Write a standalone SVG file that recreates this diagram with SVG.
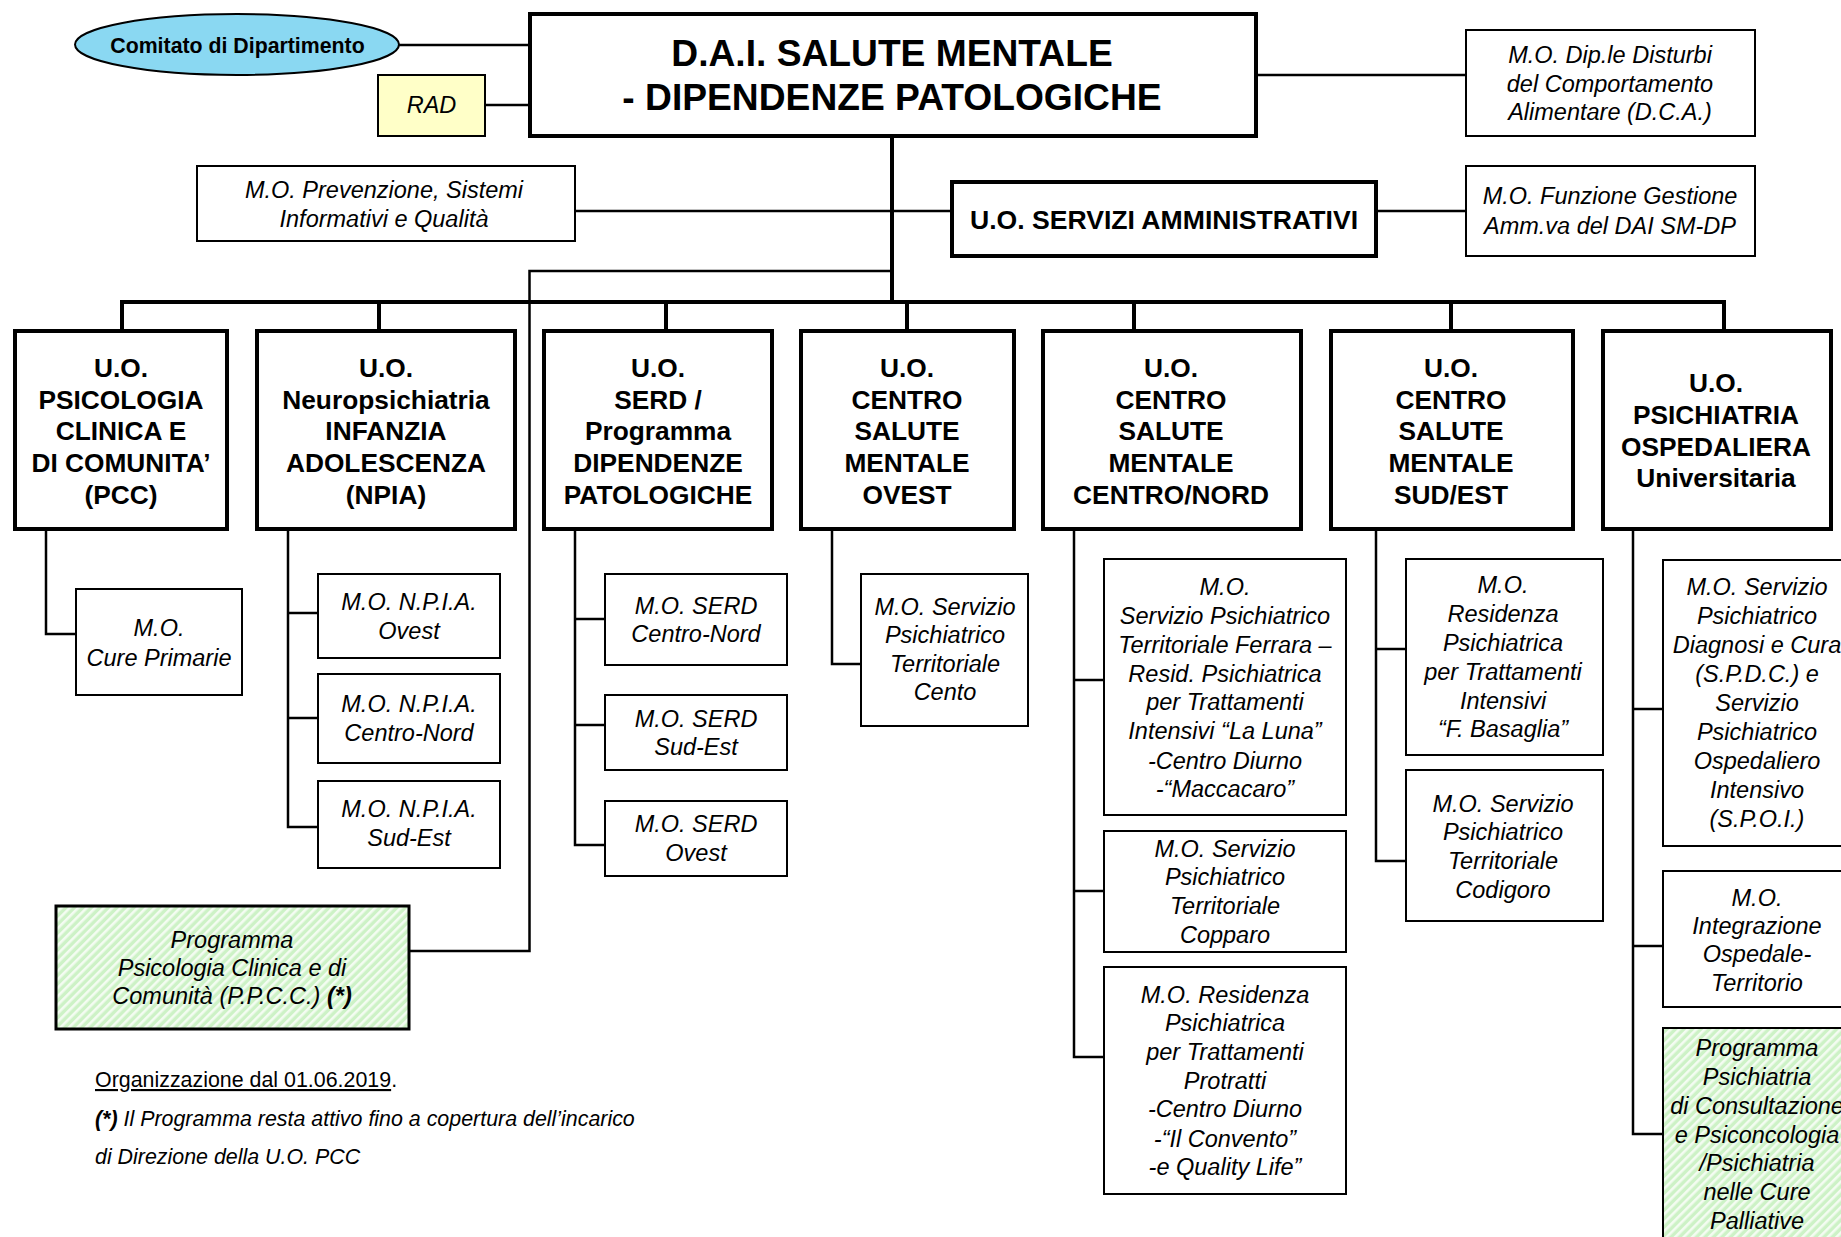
<svg xmlns="http://www.w3.org/2000/svg" width="1841" height="1237" viewBox="0 0 1841 1237">
<style>
text{font-family:"Liberation Sans",Arial,Helvetica,sans-serif;fill:#000;text-anchor:middle}
.tb{font-weight:bold;font-size:26.3px}
.ti{font-style:italic;font-size:23.5px}
.uo{fill:#fff;stroke:#000;stroke-width:4}
.mo{fill:#fff;stroke:#000;stroke-width:2}
.ln{stroke:#000;stroke-width:2.5;fill:none}
.lt{stroke:#000;stroke-width:4;fill:none}
</style>
<defs>
<pattern id="hatch" width="6" height="6" patternUnits="userSpaceOnUse" patternTransform="rotate(45)">
<rect width="6" height="6" fill="#cdf2c6"/>
<rect x="0" y="0" width="2.6" height="6" fill="#f4fcf2"/>
</pattern>
</defs>
<rect width="1841" height="1237" fill="#fff"/>

<g id="connectors">
<line class="ln" x1="399" y1="45" x2="530" y2="45"/>
<line class="ln" x1="485" y1="105" x2="530" y2="105"/>
<line class="ln" x1="1256" y1="75" x2="1466" y2="75"/>
<line class="lt" x1="892" y1="136" x2="892" y2="302"/>
<line class="ln" x1="575" y1="211" x2="892" y2="211"/>
<line class="ln" x1="892" y1="211" x2="952" y2="211" stroke-width="5"/>
<line class="ln" x1="1376" y1="211" x2="1466" y2="211"/>
<polyline class="ln" stroke-width="3" points="892,271 529.5,271 529.5,951 409,951"/>
<line class="lt" x1="120" y1="302" x2="1726" y2="302"/>
<line class="lt" x1="122" y1="302" x2="122" y2="331"/>
<line class="lt" x1="379" y1="302" x2="379" y2="331"/>
<line class="lt" x1="666" y1="302" x2="666" y2="331"/>
<line class="lt" x1="907" y1="302" x2="907" y2="331"/>
<line class="lt" x1="1134" y1="302" x2="1134" y2="331"/>
<line class="lt" x1="1451" y1="302" x2="1451" y2="331"/>
<line class="lt" x1="1724" y1="302" x2="1724" y2="331"/>
<polyline class="ln" points="46,529 46,634 76,634"/>
<polyline class="ln" points="288,529 288,827 318,827"/>
<line class="ln" x1="288" y1="613" x2="318" y2="613"/>
<line class="ln" x1="288" y1="718" x2="318" y2="718"/>
<polyline class="ln" points="575,529 575,845 605,845"/>
<line class="ln" x1="575" y1="619" x2="605" y2="619"/>
<line class="ln" x1="575" y1="725" x2="605" y2="725"/>
<polyline class="ln" points="832,529 832,664 861,664"/>
<polyline class="ln" points="1074,529 1074,1057 1104,1057"/>
<line class="ln" x1="1074" y1="680" x2="1104" y2="680"/>
<line class="ln" x1="1074" y1="891" x2="1104" y2="891" stroke-width="3.5"/>
<polyline class="ln" points="1376,529 1376,861 1406,861"/>
<line class="ln" x1="1376" y1="649" x2="1406" y2="649"/>
<polyline class="ln" points="1633,529 1633,1134 1663,1134"/>
<line class="ln" x1="1633" y1="709" x2="1663" y2="709"/>
<line class="ln" x1="1633" y1="946" x2="1663" y2="946"/>
</g>

<g id="comitato">
<ellipse cx="237" cy="44.5" rx="162" ry="30.5" fill="#8ad8f2" stroke="#000" stroke-width="2"/>
<text x="237.5" y="52.5" font-weight="bold" font-size="21.3px">Comitato di Dipartimento</text>
</g>
<g id="rad">
<rect x="378" y="75" width="107" height="61" fill="#ffffc8" stroke="#000" stroke-width="2"/>
<text class="ti" x="431.5" y="113">RAD</text>
</g>
<g id="dai">
<rect class="uo" x="530" y="14" width="726" height="122"/>
<text x="892" y="66" font-weight="bold" font-size="37.2px">D.A.I. SALUTE MENTALE</text>
<text x="892" y="110" font-weight="bold" font-size="37.2px">- DIPENDENZE PATOLOGICHE</text>
</g>
<g id="dca">
<rect class="mo" x="1466" y="30" width="289" height="106"/>
<text class="ti" x="1610" y="63">M.O. Dip.le Disturbi</text>
<text class="ti" x="1610" y="92">del Comportamento</text>
<text class="ti" x="1610" y="120">Alimentare (D.C.A.)</text>
</g>
<g id="prevenzione">
<rect class="mo" x="197" y="166" width="378" height="75"/>
<text class="ti" x="384" y="198">M.O. Prevenzione, Sistemi</text>
<text class="ti" x="384" y="227">Informativi e Qualità</text>
</g>
<g id="servizi-amm">
<rect class="uo" x="952" y="182" width="424" height="74"/>
<text x="1164" y="229" font-weight="bold" font-size="26.6px">U.O. SERVIZI AMMINISTRATIVI</text>
</g>
<g id="funzione-gestione">
<rect class="mo" x="1466" y="166" width="289" height="90"/>
<text class="ti" x="1610" y="204">M.O. Funzione Gestione</text>
<text class="ti" x="1610" y="234">Amm.va del DAI SM-DP</text>
</g>

<g id="uo-pcc">
<rect class="uo" x="15" y="331" width="212" height="198"/>
<text class="tb" x="121" y="377">U.O.</text>
<text class="tb" x="121" y="408.5">PSICOLOGIA</text>
<text class="tb" x="121" y="440">CLINICA E</text>
<text class="tb" x="121" y="472">DI COMUNITA’</text>
<text class="tb" x="121" y="503.5">(PCC)</text>
</g>
<g id="uo-npia">
<rect class="uo" x="257" y="331" width="258" height="198"/>
<text class="tb" x="386" y="377">U.O.</text>
<text class="tb" x="386" y="408.5">Neuropsichiatria</text>
<text class="tb" x="386" y="440">INFANZIA</text>
<text class="tb" x="386" y="472">ADOLESCENZA</text>
<text class="tb" x="386" y="503.5">(NPIA)</text>
</g>
<g id="uo-serd">
<rect class="uo" x="544" y="331" width="228" height="198"/>
<text class="tb" x="658" y="377">U.O.</text>
<text class="tb" x="658" y="408.5">SERD /</text>
<text class="tb" x="658" y="440">Programma</text>
<text class="tb" x="658" y="472">DIPENDENZE</text>
<text class="tb" x="658" y="503.5">PATOLOGICHE</text>
</g>
<g id="uo-csm-ovest">
<rect class="uo" x="801" y="331" width="213" height="198"/>
<text class="tb" x="907" y="377">U.O.</text>
<text class="tb" x="907" y="408.5">CENTRO</text>
<text class="tb" x="907" y="440">SALUTE</text>
<text class="tb" x="907" y="472">MENTALE</text>
<text class="tb" x="907" y="503.5">OVEST</text>
</g>
<g id="uo-csm-centronord">
<rect class="uo" x="1043" y="331" width="258" height="198"/>
<text class="tb" x="1171" y="377">U.O.</text>
<text class="tb" x="1171" y="408.5">CENTRO</text>
<text class="tb" x="1171" y="440">SALUTE</text>
<text class="tb" x="1171" y="472">MENTALE</text>
<text class="tb" x="1171" y="503.5">CENTRO/NORD</text>
</g>
<g id="uo-csm-sudest">
<rect class="uo" x="1331" y="331" width="242" height="198"/>
<text class="tb" x="1451" y="377">U.O.</text>
<text class="tb" x="1451" y="408.5">CENTRO</text>
<text class="tb" x="1451" y="440">SALUTE</text>
<text class="tb" x="1451" y="472">MENTALE</text>
<text class="tb" x="1451" y="503.5">SUD/EST</text>
</g>
<g id="uo-psichiatria-osp">
<rect class="uo" x="1603" y="331" width="228" height="198"/>
<text class="tb" x="1716" y="392">U.O.</text>
<text class="tb" x="1716" y="424">PSICHIATRIA</text>
<text class="tb" x="1716" y="455.5">OSPEDALIERA</text>
<text class="tb" x="1716" y="487">Universitaria</text>
</g>

<g id="mo-cure-primarie">
<rect class="mo" x="76" y="589" width="166" height="106"/>
<text class="ti" x="159" y="636">M.O.</text>
<text class="ti" x="159" y="666">Cure Primarie</text>
</g>
<g id="mo-npia-ovest">
<rect class="mo" x="318" y="574" width="182" height="84"/>
<text class="ti" x="409" y="610">M.O. N.P.I.A.</text>
<text class="ti" x="409" y="639">Ovest</text>
</g>
<g id="mo-npia-centronord">
<rect class="mo" x="318" y="674" width="182" height="89"/>
<text class="ti" x="409" y="712">M.O. N.P.I.A.</text>
<text class="ti" x="409" y="741">Centro-Nord</text>
</g>
<g id="mo-npia-sudest">
<rect class="mo" x="318" y="781" width="182" height="87"/>
<text class="ti" x="409" y="817">M.O. N.P.I.A.</text>
<text class="ti" x="409" y="846">Sud-Est</text>
</g>
<g id="programma-ppcc">
<rect x="56" y="906" width="353" height="123" fill="url(#hatch)" stroke="#000" stroke-width="3"/>
<text class="ti" x="232" y="948">Programma</text>
<text class="ti" x="232" y="976">Psicologia Clinica e di</text>
<text class="ti" x="232" y="1004">Comunità (P.P.C.C.) <tspan font-weight="bold">(*)</tspan></text>
</g>

<g id="mo-serd-centronord">
<rect class="mo" x="605" y="574" width="182" height="91"/>
<text class="ti" x="696" y="614">M.O. SERD</text>
<text class="ti" x="696" y="642">Centro-Nord</text>
</g>
<g id="mo-serd-sudest">
<rect class="mo" x="605" y="695" width="182" height="75"/>
<text class="ti" x="696" y="727">M.O. SERD</text>
<text class="ti" x="696" y="755">Sud-Est</text>
</g>
<g id="mo-serd-ovest">
<rect class="mo" x="605" y="801" width="182" height="75"/>
<text class="ti" x="696" y="832">M.O. SERD</text>
<text class="ti" x="696" y="861">Ovest</text>
</g>
<g id="mo-spt-cento">
<rect class="mo" x="861" y="574" width="167" height="152"/>
<text class="ti" x="945" y="615">M.O. Servizio</text>
<text class="ti" x="945" y="643">Psichiatrico</text>
<text class="ti" x="945" y="672">Territoriale</text>
<text class="ti" x="945" y="700">Cento</text>
</g>

<g id="mo-spt-ferrara">
<rect class="mo" x="1104" y="559" width="242" height="256"/>
<text class="ti" x="1225" y="595">M.O.</text>
<text class="ti" x="1225" y="624">Servizio Psichiatrico</text>
<text class="ti" x="1225" y="653">Territoriale Ferrara –</text>
<text class="ti" x="1225" y="682">Resid. Psichiatrica</text>
<text class="ti" x="1225" y="710">per Trattamenti</text>
<text class="ti" x="1225" y="739">Intensivi “La Luna”</text>
<text class="ti" x="1225" y="769">-Centro Diurno</text>
<text class="ti" x="1225" y="797">-“Maccacaro”</text>
</g>
<g id="mo-spt-copparo">
<rect class="mo" x="1104" y="831" width="242" height="121"/>
<text class="ti" x="1225" y="857">M.O. Servizio</text>
<text class="ti" x="1225" y="885">Psichiatrico</text>
<text class="ti" x="1225" y="914">Territoriale</text>
<text class="ti" x="1225" y="943">Copparo</text>
</g>
<g id="mo-residenza-protratti">
<rect class="mo" x="1104" y="967" width="242" height="227"/>
<text class="ti" x="1225" y="1003">M.O. Residenza</text>
<text class="ti" x="1225" y="1031">Psichiatrica</text>
<text class="ti" x="1225" y="1060">per Trattamenti</text>
<text class="ti" x="1225" y="1089">Protratti</text>
<text class="ti" x="1225" y="1117">-Centro Diurno</text>
<text class="ti" x="1225" y="1147">-“Il Convento”</text>
<text class="ti" x="1225" y="1175">-e Quality Life”</text>
</g>

<g id="mo-residenza-basaglia">
<rect class="mo" x="1406" y="559" width="197" height="196"/>
<text class="ti" x="1503" y="593">M.O.</text>
<text class="ti" x="1503" y="622">Residenza</text>
<text class="ti" x="1503" y="651">Psichiatrica</text>
<text class="ti" x="1503" y="680">per Trattamenti</text>
<text class="ti" x="1503" y="709">Intensivi</text>
<text class="ti" x="1503" y="737">“F. Basaglia”</text>
</g>
<g id="mo-spt-codigoro">
<rect class="mo" x="1406" y="770" width="197" height="151"/>
<text class="ti" x="1503" y="812">M.O. Servizio</text>
<text class="ti" x="1503" y="840">Psichiatrico</text>
<text class="ti" x="1503" y="869">Territoriale</text>
<text class="ti" x="1503" y="898">Codigoro</text>
</g>

<g id="mo-spdc-spoi">
<rect class="mo" x="1663" y="560" width="188" height="286"/>
<text class="ti" x="1757" y="595">M.O. Servizio</text>
<text class="ti" x="1757" y="624">Psichiatrico</text>
<text class="ti" x="1757" y="653">Diagnosi e Cura</text>
<text class="ti" x="1757" y="682">(S.P.D.C.) e</text>
<text class="ti" x="1757" y="711">Servizio</text>
<text class="ti" x="1757" y="740">Psichiatrico</text>
<text class="ti" x="1757" y="769">Ospedaliero</text>
<text class="ti" x="1757" y="798">Intensivo</text>
<text class="ti" x="1757" y="827">(S.P.O.I.)</text>
</g>
<g id="mo-integrazione">
<rect class="mo" x="1663" y="871" width="188" height="136"/>
<text class="ti" x="1757" y="906">M.O.</text>
<text class="ti" x="1757" y="934">Integrazione</text>
<text class="ti" x="1757" y="962">Ospedale-</text>
<text class="ti" x="1757" y="991">Territorio</text>
</g>
<g id="programma-consultazione">
<rect x="1663" y="1028" width="188" height="230" fill="url(#hatch)" stroke="#000" stroke-width="2"/>
<text class="ti" x="1757" y="1056">Programma</text>
<text class="ti" x="1757" y="1085">Psichiatria</text>
<text class="ti" x="1757" y="1114">di Consultazione</text>
<text class="ti" x="1757" y="1143">e Psiconcologia</text>
<text class="ti" x="1757" y="1171">/Psichiatria</text>
<text class="ti" x="1757" y="1200">nelle Cure</text>
<text class="ti" x="1757" y="1229">Palliative</text>
</g>

<g id="note" font-size="21.4px">
<text x="95" y="1087" style="text-anchor:start;font-size:21.4px"><tspan text-decoration="underline">Organizzazione dal 01.06.2019</tspan>.</text>
<text x="95" y="1126" style="text-anchor:start;font-size:21.4px;font-style:italic"><tspan font-weight="bold">(*)</tspan> Il Programma resta attivo fino a copertura dell’incarico</text>
<text x="95" y="1164" style="text-anchor:start;font-size:21.4px;font-style:italic">di Direzione della U.O. PCC</text>
</g>
</svg>
